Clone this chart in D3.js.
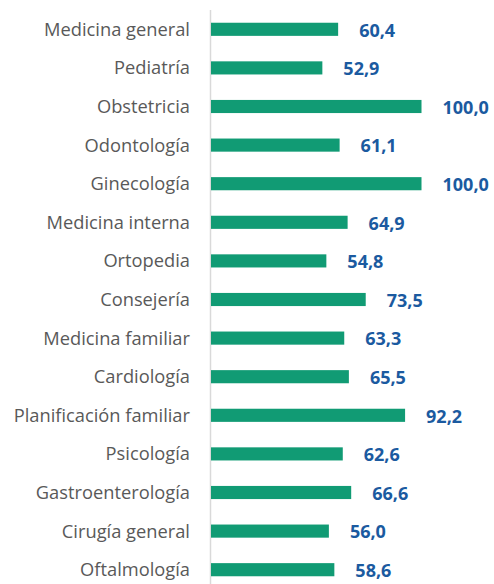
<!DOCTYPE html>
<html><head><meta charset="utf-8">
<script src="https://cdn.jsdelivr.net/npm/d3@7"></script>
<style>body{margin:0;background:#fff}</style>
</head><body>
<script>
const categories = ["Medicina general","Pediatría","Obstetricia","Odontología","Ginecología","Medicina interna","Ortopedia","Consejería","Medicina familiar","Cardiología","Planificación familiar","Psicología","Gastroenterología","Cirugía general","Oftalmología"];
const values = [60.4,52.9,100.0,61.1,100.0,64.9,54.8,73.5,63.3,65.5,92.2,62.6,66.6,56.0,58.6];

const W=494,H=584;
const svg=d3.select("body").append("svg").attr("width",W).attr("height",H);
const x=d3.scaleLinear().domain([0,100]).range([211,421.5]);
const y=d3.scaleBand().domain(categories).range([10,589]).paddingInner(0.66).paddingOuter(0.33);
const fmt=v=>d3.format(".1f")(v).replace(".",",");

svg.append("line").attr("x1",210.5).attr("x2",210.5).attr("y1",10).attr("y2",H)
  .attr("stroke","#d9d9d9").attr("stroke-width",1.5);

svg.selectAll("rect.bar").data(values).join("rect").attr("class","bar")
  .attr("x",x(0)).attr("y",(d,i)=>y(categories[i]))
  .attr("width",d=>x(d)-x(0)).attr("height",y.bandwidth())
  .attr("fill","#119B74");

svg.selectAll("text.cat").data(categories).join("text").attr("class","cat")
  .attr("x",190).attr("y",d=>y(d)+y.bandwidth()/2).attr("dy","0.35em")
  .attr("text-anchor","end").attr("fill","#595959")
  .style("font-family","'Open Sans', sans-serif").style("font-size","18.3px")
  .text(d=>d);

svg.selectAll("text.val").data(values).join("text").attr("class","val")
  .attr("x",d=>x(d)+21).attr("y",(d,i)=>y(categories[i])+y.bandwidth()/2).attr("dy","0.4em")
  .attr("fill","#1B5AA0").attr("font-weight","bold")
  .style("font-family","'Open Sans', sans-serif").style("font-size","18px")
  .text(d=>fmt(d));
</script>
</body></html>
